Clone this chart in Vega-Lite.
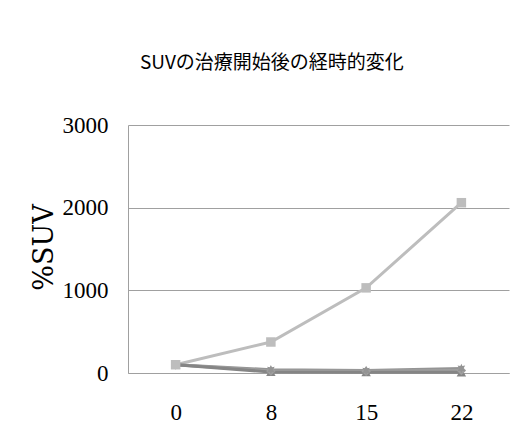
{
  "$schema": "https://vega.github.io/schema/vega-lite/v6.json",
  "width": 381,
  "height": 248,
  "autosize": {"type": "none"},
  "padding": {"left": 128, "top": 125, "right": 10, "bottom": 73},
  "background": "white",
  "title": {
    "text": "SUVの治療開始後の経時的変化",
    "font": "Noto Sans CJK JP",
    "fontSize": 19,
    "fontWeight": "normal",
    "color": "#000000",
    "anchor": "start",
    "frame": "group",
    "dx": 12,
    "offset": 41
  },
  "config": {
    "view": {"stroke": null},
    "axis": {
      "labelFont": "Liberation Serif",
      "labelFontSize": 23,
      "labelColor": "#000000",
      "titleFont": "DejaVu Serif",
      "titleFontWeight": "normal",
      "titleColor": "#000000",
      "ticks": false,
      "domainColor": "#a0a0a0",
      "gridColor": "#a0a0a0"
    }
  },
  "data": {
    "values": [
      {"day": "0", "series": "A", "suv": 100},
      {"day": "8", "series": "A", "suv": 375},
      {"day": "15", "series": "A", "suv": 1030},
      {"day": "22", "series": "A", "suv": 2060},
      {"day": "0", "series": "B", "suv": 100},
      {"day": "8", "series": "B", "suv": 40},
      {"day": "15", "series": "B", "suv": 30},
      {"day": "22", "series": "B", "suv": 55},
      {"day": "0", "series": "C", "suv": 100},
      {"day": "8", "series": "C", "suv": 25},
      {"day": "15", "series": "C", "suv": 20},
      {"day": "22", "series": "C", "suv": 30},
      {"day": "0", "series": "D", "suv": 100},
      {"day": "8", "series": "D", "suv": 12},
      {"day": "15", "series": "D", "suv": 10},
      {"day": "22", "series": "D", "suv": 8}
    ]
  },
  "encoding": {
    "x": {
      "field": "day",
      "type": "ordinal",
      "sort": ["0", "8", "15", "22"],
      "title": null,
      "axis": {"labelAngle": 0, "labelPadding": 28, "domain": true, "domainColor": "#a0a0a0"}
    },
    "y": {
      "field": "suv",
      "type": "quantitative",
      "scale": {"domain": [0, 3000]},
      "title": "%SUV",
      "axis": {
        "values": [0, 1000, 2000, 3000],
        "format": "d",
        "labelPadding": 20,
        "titleFontSize": 27,
        "titleX": -70,
        "titleY": 122,
        "titleAlign": "center",
        "titleBaseline": "bottom",
        "domain": true,
        "grid": true
      }
    },
    "color": {
      "field": "series",
      "type": "nominal",
      "scale": {"domain": ["D", "C", "B", "A"], "range": ["#858585", "#a0a0a0", "#949494", "#bdbdbd"]},
      "legend": null
    },
    "order": {"field": "series", "sort": "descending"}
  },
  "layer": [
    {"mark": {"type": "line", "strokeWidth": 3}},
    {
      "mark": {"type": "point", "filled": true, "opacity": 1},
      "encoding": {
        "shape": {
          "field": "series",
          "type": "nominal",
          "scale": {"domain": ["A", "B", "C", "D"], "range": ["square", "M0,-1L0.22,-0.5L0.8,-0.6L0.45,0L0.8,0.6L0.22,0.5L0,1L-0.22,0.5L-0.8,0.6L-0.45,0L-0.8,-0.6L-0.22,-0.5Z", "diamond", "triangle-up"]},
          "legend": null
        },
        "size": {"value": 90}
      }
    }
  ]
}
